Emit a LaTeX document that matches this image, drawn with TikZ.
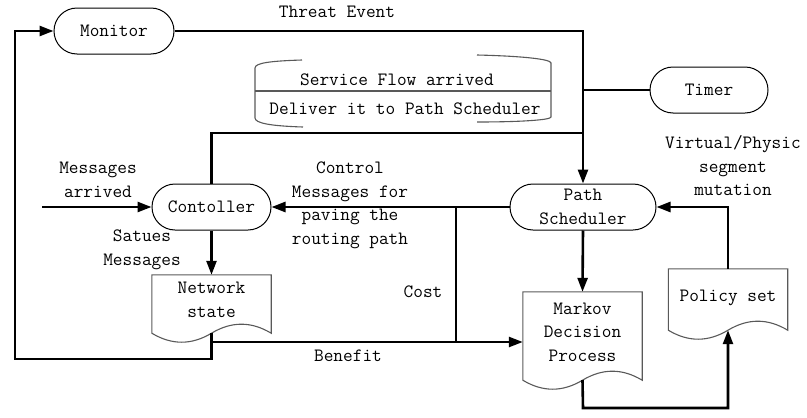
\documentclass[tikz,border=0pt]{standalone}
\usepackage{fontspec}
\usetikzlibrary{arrows.meta}
\newcommand\docshape[1]{%
  \draw[docline] (#1.south west) -- (#1.north west) -- (#1.north east) -- (#1.south east)
    .. controls +(-20,-12) and +(20,-12) .. (#1.south)
    .. controls +(-20,12) and +(20,12) .. (#1.south west) -- cycle;}

\begin{document}
\begin{tikzpicture}
  [x=1pt,y=-1pt,font=\ttfamily\fontsize{18.8}{23.5}\selectfont,
   term/.style={draw,line width=1pt,rounded corners=23pt,minimum height=46pt,inner sep=1pt,align=center},
   doc/.style={minimum width=119pt,text depth=8pt,align=center},
   lbl/.style={align=center},
   docline/.style={draw=black!65,line width=1.1pt},
   conn/.style={line width=2.6pt},
   arr/.style={conn,-{Triangle[length=14pt,width=10pt]}}]
  \useasboundingbox (0,0) rectangle (807,418);
  \node[term,minimum width=120pt] (monitor) at (114,31) {Monitor};
  \node[term,minimum width=118pt] (timer) at (709,90) {Timer};
  \node[term,minimum width=119pt] (ctrl) at (211.5,207) {Contoller};
  \node[term,minimum width=146pt] (sched) at (583,207) {Path\\Scheduler};
  \node[doc,minimum height=58pt] (netst) at (211.5,304) {Network\\state};
  \node[doc,minimum height=88pt] (markov) at (582.5,336) {Markov\\Decision\\Process};
  \node[doc,minimum height=61pt] (policy) at (728,299.5) {Policy set};
  \docshape{netst}
  \docshape{markov}
  \docshape{policy}

  \node (sfa) at (397,80) {Service Flow arrived};
  \node (sfb) at (405,109) {Deliver it to Path Scheduler};
  \draw[docline] (302,60) .. controls (270,61) and (255,63) .. (255,68) -- (255,118)
    .. controls (255,123) and (270,126) .. (303,127);
  \draw[docline] (477,55) .. controls (520,56) and (551,59) .. (551,63) -- (551,117)
    .. controls (551,120) and (520,122) .. (477,122);
  \draw[docline] (255,91) -- (551,91);

  \node[lbl] (threat) at (337,12) {Threat Event};
  \node[lbl] (msgin) at (98,180) {Messages\\arrived};
  \node[lbl] (status) at (142,250) {Satues\\Messages};
  \node[lbl] (ctrlmsg) at (350,205.5) {Control\\Messages for\\paving the\\routing path};
  \node[lbl] (cost) at (423,292) {Cost};
  \node[lbl] (benefit) at (348,356) {Benefit};
  \node[lbl] (mutation) at (733,166) {Virtual/Physic\\segment\\mutation};

  \coordinate (tj) at (583,133);
  \coordinate (lc) at (15,359);
  \coordinate (bj) at (212,342);
  \coordinate (cj) at (456,207);
  \coordinate (inp) at (42,207);
  \coordinate (pb) at (583,408);

  \foreach \from/\to in {inp/ctrl.west,sched.west/ctrl.east,ctrl.south/netst.north,sched.south/markov.north}
    \draw[arr] (\from) -- (\to);
  \draw[arr] (monitor.east) -| (sched.north);
  \draw[conn] (ctrl.north) |- (tj);
  \draw[conn] (sched.north |- timer.west) -- (timer.west);
  \draw[arr] (netst.south) |- (lc) |- (monitor.west);
  \draw[arr] (bj) -- (bj -| markov.west);
  \draw[conn] (cj) -- (cj |- bj);
  \draw[arr] (markov.south) -- (pb) -| (policy.south);
  \draw[arr] (policy.north) |- (sched.east);
\end{tikzpicture}
\end{document}
